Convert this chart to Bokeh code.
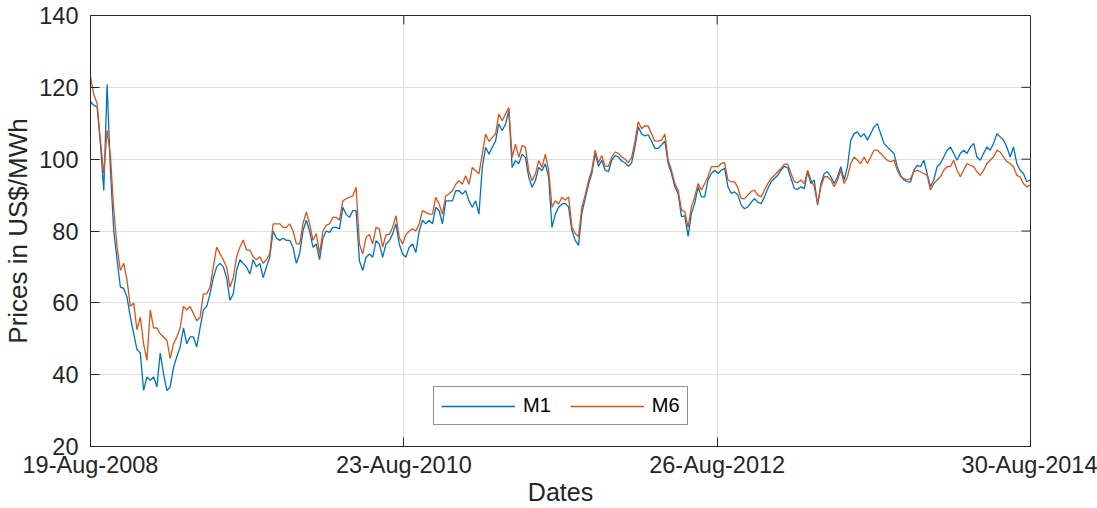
import pandas as pd
from bokeh.plotting import figure
from bokeh.models import (Range1d, FixedTicker, Legend, LegendItem, DatetimeTickFormatter)
from bokeh.embed import file_html
from bokeh.resources import INLINE

# ---------------- data ----------------
start_date = "2008-08-19"
last_date = "2014-08-29"
axis_end_date = "2014-08-30"
tick_dates = ["2008-08-19", "2010-08-23", "2012-08-26", "2014-08-30"]
y_ticks = [20, 40, 60, 80, 100, 120, 140]
series_names = ["M1", "M6"]

m1 = [116, 115, 114.5, 104, 91.3, 120.8, 97, 80, 72, 64.4, 64, 61.6, 56, 51.5, 47, 46,
      35.6, 39.4, 38.4, 39.4, 36.6, 46, 40.3, 35.6, 36.6, 42, 45, 47.7, 53, 48.6, 50.5,
      50.5, 47.7, 53, 58, 59, 62.5, 67, 70, 71, 70, 67, 60.7, 62.5, 69, 72, 71, 70, 68,
      72, 70, 71, 67, 70, 72.8, 80, 78, 77.4, 78, 77.4, 77.4, 75.5, 71, 73.7, 80, 83, 80,
      75.5, 76.4, 72, 78, 80,
      79.6, 81, 81, 80.6, 86.6, 84.7, 83.8, 85.7, 85.7, 71.7,
      69, 72.7, 73.6, 72.7, 77.3, 76.4, 72.7, 76.4, 77.3, 79.2,
      82, 76.4, 73.6, 72.7, 75.5, 76.4, 74, 80, 83, 82,
      83, 82, 86.6, 85.7, 82, 88.4, 88.4, 88.4, 91.2, 91.2,
      90.3, 91.2, 88.4, 86.6, 88.4, 84.7, 97.7, 103.3, 101.4, 103.3,
      105, 109.8, 108, 109.8, 113.5, 97.7, 99.6, 98.7, 101.4, 100.5,
      95, 92.2, 94, 97.7, 96.8, 98.7, 95, 81, 84.7, 86.6,
      87.5,
      87.7, 86.7, 80.2, 77.4, 76, 85, 89, 93, 96, 101.6,
      98, 99.7, 97, 96.5, 99.7, 101, 100.6, 99.5, 99, 98,
      99, 103.5, 109, 107, 106.5, 106.8, 105, 103, 103, 104,
      105, 98.8, 96, 92.3, 90.4, 84, 84.2, 78.5, 84.9, 87.7,
      92.3, 89.5, 89.5, 94.2, 96, 96.9, 96, 96.9, 97.5, 92.3,
      90.5, 90.9, 90, 87.2, 86.2, 86.7, 88, 89, 88, 87.6,
      89.5, 91.8, 93.7, 94.6, 95.5, 97, 98, 97.6, 94.6, 91.8,
      91.6,
      92.3, 91.8, 96.5, 93.2, 94.2, 87.2, 93.2, 96, 96.5, 95.1,
      93.2, 95.1, 97.9, 94.2, 97.9, 105.3, 107.1, 107.6, 106.2, 107.1,
      105.3, 107.1, 109, 109.9, 107.1, 104.4, 103.4, 102.5, 101.6, 97.9,
      95.5, 94.2, 93.7, 93.7, 96.9, 98.3, 97.9, 99.7, 96, 92.3,
      94.2, 97.9, 98.8, 100.6, 102.5, 103.4, 101.6, 99.7, 101.6, 102.5,
      101.6, 103.4, 104.4, 100.6, 99.7, 101.6, 103.4, 102.5, 104.4, 107.1,
      106.2, 105.3, 103.4, 100.6, 103.4, 98.8, 96.9, 96, 93.7,
      94.2]

m6 = [123, 118, 115.5, 105, 96, 108, 101, 86, 75.5, 69, 71, 66.3, 59, 60, 52.5, 56,
      48.6, 44, 58, 53, 53, 51.4, 50.5, 49.6, 44.5, 48.6, 50.5, 53, 59, 58, 59, 57, 55,
      56, 62.5, 62.5, 64.4, 70, 75.5, 73.7, 72, 70, 64.4, 67, 72.8, 75.5, 77.5, 74.7,
      74.7, 72.8, 72, 72.8, 71, 72, 73.7, 82, 82, 82, 81, 81, 82, 80, 76.4, 76.4, 82,
      85.3, 82, 77.4, 79.3, 73.7, 80, 81.6,
      82, 83.8, 83.8, 83, 88.4, 89, 89.4, 89.8, 92.2, 76.4,
      73.6, 78.2, 79, 76.4, 81, 80.6, 75.5, 79, 79, 81,
      84.3, 78.2, 76.4, 79, 80, 80.6, 80, 82, 85.7, 85.2,
      84.7, 84.7, 89.4, 87.5, 84.7, 89.8, 90.3, 91.2, 93, 94,
      93, 95.4, 93, 97.7, 96.8, 95.9, 101.4, 107, 105, 106,
      107, 112.6, 110.7, 112.6, 114.4, 100.5, 104.2, 100.5, 103.8, 103.3,
      96.8, 94, 95.9, 99.6, 97.7, 101.4, 96.8, 86.6, 88.4, 87.5,
      89.4,
      88.6, 89.5, 81.2, 79.3, 78.4, 86.7, 90, 94, 97, 102.5,
      99, 101, 98, 98, 100.6, 102, 101.6, 100.6, 100, 99,
      100.5, 105, 110.4, 108.5, 109.3, 109.2, 107, 105, 105, 105.3,
      107, 99.7, 96.9, 93.2, 91.4, 85.8, 85.4, 81, 86.7, 89.5,
      93.2, 91.4, 93.2, 95.1, 97.9, 97.9, 97.9, 98.8, 99, 94.2,
      93.7, 93.7, 92, 89, 89, 90, 91, 91.4, 90, 89.5,
      91.4, 93.2, 94.6, 95.5, 96.5, 97.4, 98.6, 98.6, 96, 93.7,
      93.5,
      94.2, 93.2, 96.9, 94.2, 92.3, 87.7, 92.3, 95.1, 95.1, 94.2,
      92.3, 94.2, 96.9, 93.2, 95.1, 98.8, 100.6, 99.7, 98.8, 100.6,
      98.8, 100.6, 102.5, 102.5, 101.6, 100.6, 99.7, 99.3, 99.7, 96.9,
      95.1, 94.6, 94.2, 94.6, 96.5, 96.9, 96.5, 96, 95.5, 91.4,
      93.2, 94.2, 95.1, 96.9, 97.9, 97.9, 99.7, 96.9, 95.1, 96.9,
      98.8, 98.3, 97.9, 96.5, 95.5, 96.9, 98.8, 99.7, 100.6, 102.5,
      102, 100.6, 99.3, 98.8, 97.9, 95.5, 95.1, 93.2, 92.3,
      92.8]

# sample dates (evenly spaced over the traced period)
dates = pd.date_range(start_date, last_date, periods=len(m1))

def ms(d):
    return pd.Timestamp(d).value / 1e6

# ---------------- styling ----------------
FONT = "Liberation Sans"
TXT = "#262626"
GRID = "#dfdfdf"
C1 = "#0072BD"
C2 = "#D95319"

W, H = 1097, 508
BL, BR, BT, BB = 90, 67, 15, 62          # borders around the plot frame
FW, FH = W - BL - BR, H - BT - BB        # frame size in pixels
TICK = 9                                  # inward tick length (px)

x0, x1 = ms(start_date), ms(axis_end_date)
y0, y1 = y_ticks[0], y_ticks[-1]

p = figure(width=W, height=H, output_backend="svg", toolbar_location=None,
           x_axis_type="datetime",
           x_range=Range1d(x0, x1), y_range=Range1d(y0, y1),
           min_border_left=BL, min_border_right=BR, min_border_top=BT,
           min_border_bottom=BB)
p.background_fill_color = "white"
p.border_fill_color = "white"
p.outline_line_color = TXT
p.outline_line_width = 1
p.outline_line_alpha = 1

x_tick_ms = [ms(d) for d in tick_dates]
xt = FixedTicker(ticks=x_tick_ms)
yt = FixedTicker(ticks=y_ticks)
fmt = DatetimeTickFormatter(milliseconds="%d-%b-%Y", seconds="%d-%b-%Y",
                            minsec="%d-%b-%Y", minutes="%d-%b-%Y",
                            hourmin="%d-%b-%Y", hours="%d-%b-%Y",
                            days="%d-%b-%Y", months="%d-%b-%Y", years="%d-%b-%Y")

xa = p.xaxis[0]
ya = p.yaxis[0]
xa.ticker = xt
xa.formatter = fmt
ya.ticker = yt
for ax in (xa, ya):
    ax.major_tick_in = TICK
    ax.major_tick_out = 0
    ax.minor_tick_line_color = None
    ax.axis_line_color = TXT
    ax.major_tick_line_color = TXT
    ax.major_label_text_color = TXT
    ax.major_label_text_font = FONT
    ax.major_label_text_font_size = "23.5px"
    ax.axis_label_text_font = FONT
    ax.axis_label_text_font_style = "normal"
    ax.axis_label_text_color = TXT
xa.axis_label = "Dates"
xa.axis_label_text_font_size = "25px"
xa.major_label_standoff = 5
xa.axis_label_standoff = -3
ya.axis_label = "Prices in US$/MWh"
ya.axis_label_text_font_size = "26px"
ya.major_label_standoff = 12
ya.axis_label_standoff = 3

p.xgrid.ticker = xt
p.ygrid.ticker = yt
for g in (p.xgrid[0], p.ygrid[0]):
    g.grid_line_color = GRID
    g.grid_line_width = 1

# box ticks on the right and top edges (inward, same length as the others)
dx = (x1 - x0) * TICK / FW
dy = (y1 - y0) * TICK / FH
p.segment(x0=[x1 - dx] * len(y_ticks), y0=y_ticks, x1=[x1] * len(y_ticks), y1=y_ticks,
          line_color=TXT, line_width=1)
p.segment(x0=x_tick_ms, y0=[y1 - dy] * len(x_tick_ms), x1=x_tick_ms,
          y1=[y1] * len(x_tick_ms), line_color=TXT, line_width=1)

r1 = p.line(dates, m1, line_color=C1, line_width=1.3)
r2 = p.line(dates, m6, line_color=C2, line_width=1.3)

legend = Legend(items=[LegendItem(label=series_names[0], renderers=[r1]),
                       LegendItem(label=series_names[1], renderers=[r2])],
                location=(343, 21), orientation="horizontal",
                glyph_width=74, glyph_height=20, label_standoff=8, spacing=19,
                padding=7, margin=0,
                label_text_font=FONT, label_text_font_size="20px",
                label_text_color="black",
                border_line_color=TXT, border_line_width=1,
                background_fill_color="white", background_fill_alpha=1)
p.add_layout(legend, "center")

open("out.html", "w").write(file_html(p, INLINE))
